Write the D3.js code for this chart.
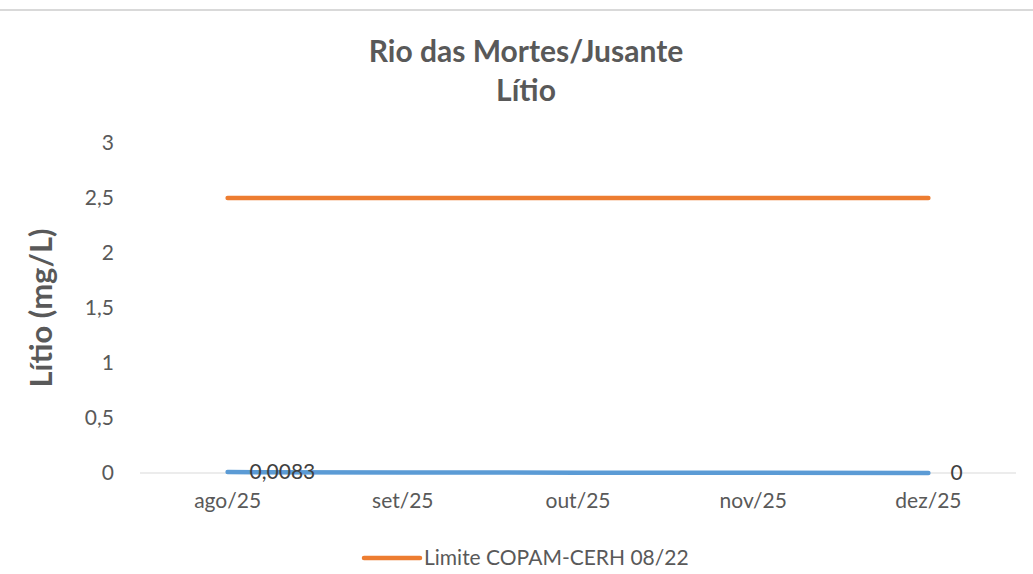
<!DOCTYPE html>
<meta charset="utf-8">
<style>
body { margin: 0; background: #fff; }
text { font-family: Lato, "Open Sans", sans-serif; fill: #595959; }
.line { fill: none; stroke-width: 4.5px; stroke-linecap: round; }
</style>
<body>
<script src="https://d3js.org/d3.v7.min.js"></script>
<script>

// chart data
var months = ["ago/25", "set/25", "out/25", "nov/25", "dez/25"];
var litio = [0.0083, 0.005, 0.003, 0.002, 0];
var limite = [2.5, 2.5, 2.5, 2.5, 2.5];
var yTicks = [0, 0.5, 1, 1.5, 2, 2.5, 3];

var W = 1033, H = 574;
var margin = {top: 143, right: 17, bottom: 101, left: 140},
    width = W - margin.left - margin.right,
    height = H - margin.top - margin.bottom;

var root = d3.select("body").append("svg")
    .attr("width", W)
    .attr("height", H);

// thin border line at the top
root.append("line")
    .attr("x1", 0).attr("x2", W)
    .attr("y1", 10).attr("y2", 10)
    .style("stroke", "#d9d9d9")
    .style("stroke-width", 2);

var svg = root.append("g")
    .attr("transform", "translate(" + margin.left + "," + margin.top + ")");

var x = d3.scaleBand().domain(months).range([0, width]);
var y = d3.scaleLinear().domain([0, 3]).range([height, 0]);
var cx = function(m) { return x(m) + x.bandwidth() / 2; };
var fmt = function(v) { return String(v).replace(".", ","); };

// zero line
svg.append("line")
    .attr("x1", 0).attr("x2", width)
    .attr("y1", y(0)).attr("y2", y(0))
    .style("stroke", "#d9d9d9")
    .style("stroke-width", 1);

// y axis labels
svg.append("g")
    .call(d3.axisLeft(y).tickValues(yTicks).tickFormat(fmt).tickSize(0).tickPadding(26))
    .call(function(g) { g.select(".domain").remove(); })
    .selectAll("text")
    .style("font-size", "21px")
    .style("fill", "#595959");

// x axis labels
svg.append("g")
    .attr("transform", "translate(0," + height + ")")
    .call(d3.axisBottom(x).tickSize(0).tickPadding(20))
    .call(function(g) { g.select(".domain").remove(); })
    .selectAll("text")
    .style("font-size", "21px")
    .style("fill", "#595959");

var line = d3.line()
    .x(function(d, i) { return cx(months[i]); })
    .y(function(d) { return y(d); });

svg.append("path")
    .datum(limite)
    .attr("class", "line")
    .style("stroke", "#ED7D31")
    .attr("d", line);

svg.append("path")
    .datum(litio)
    .attr("class", "line")
    .style("stroke", "#5B9BD5")
    .attr("d", line);

// data labels on first and last point
[0, litio.length - 1].forEach(function(i) {
  svg.append("text")
      .attr("x", cx(months[i]) + 22)
      .attr("y", y(litio[i]))
      .attr("dy", "0.35em")
      .style("font-size", "21px")
      .style("fill", "#404040")
      .text(fmt(litio[i]));
});

// title
root.append("text")
    .attr("x", 526).attr("y", 62)
    .attr("text-anchor", "middle")
    .style("font-size", "30px")
    .style("font-weight", "bold")
    .text("Rio das Mortes/Jusante");
root.append("text")
    .attr("x", 526).attr("y", 101)
    .attr("text-anchor", "middle")
    .style("font-size", "30px")
    .style("font-weight", "bold")
    .text("Lítio");

// y axis title
root.append("text")
    .attr("transform", "translate(52," + (margin.top + height / 2) + ") rotate(-90)")
    .attr("text-anchor", "middle")
    .style("font-size", "31px")
    .style("font-weight", "bold")
    .text("Lítio (mg/L)");

// legend
var leg = root.append("g").attr("transform", "translate(364,558)");
leg.append("line")
    .attr("x1", 0).attr("x2", 56)
    .attr("y1", 0).attr("y2", 0)
    .style("stroke", "#ED7D31")
    .style("stroke-width", 4.5)
    .style("stroke-linecap", "round");
leg.append("text")
    .attr("x", 60).attr("y", 0)
    .attr("dy", "0.35em")
    .style("font-size", "21px")
    .text("Limite COPAM-CERH 08/22");

</script>
</body>
